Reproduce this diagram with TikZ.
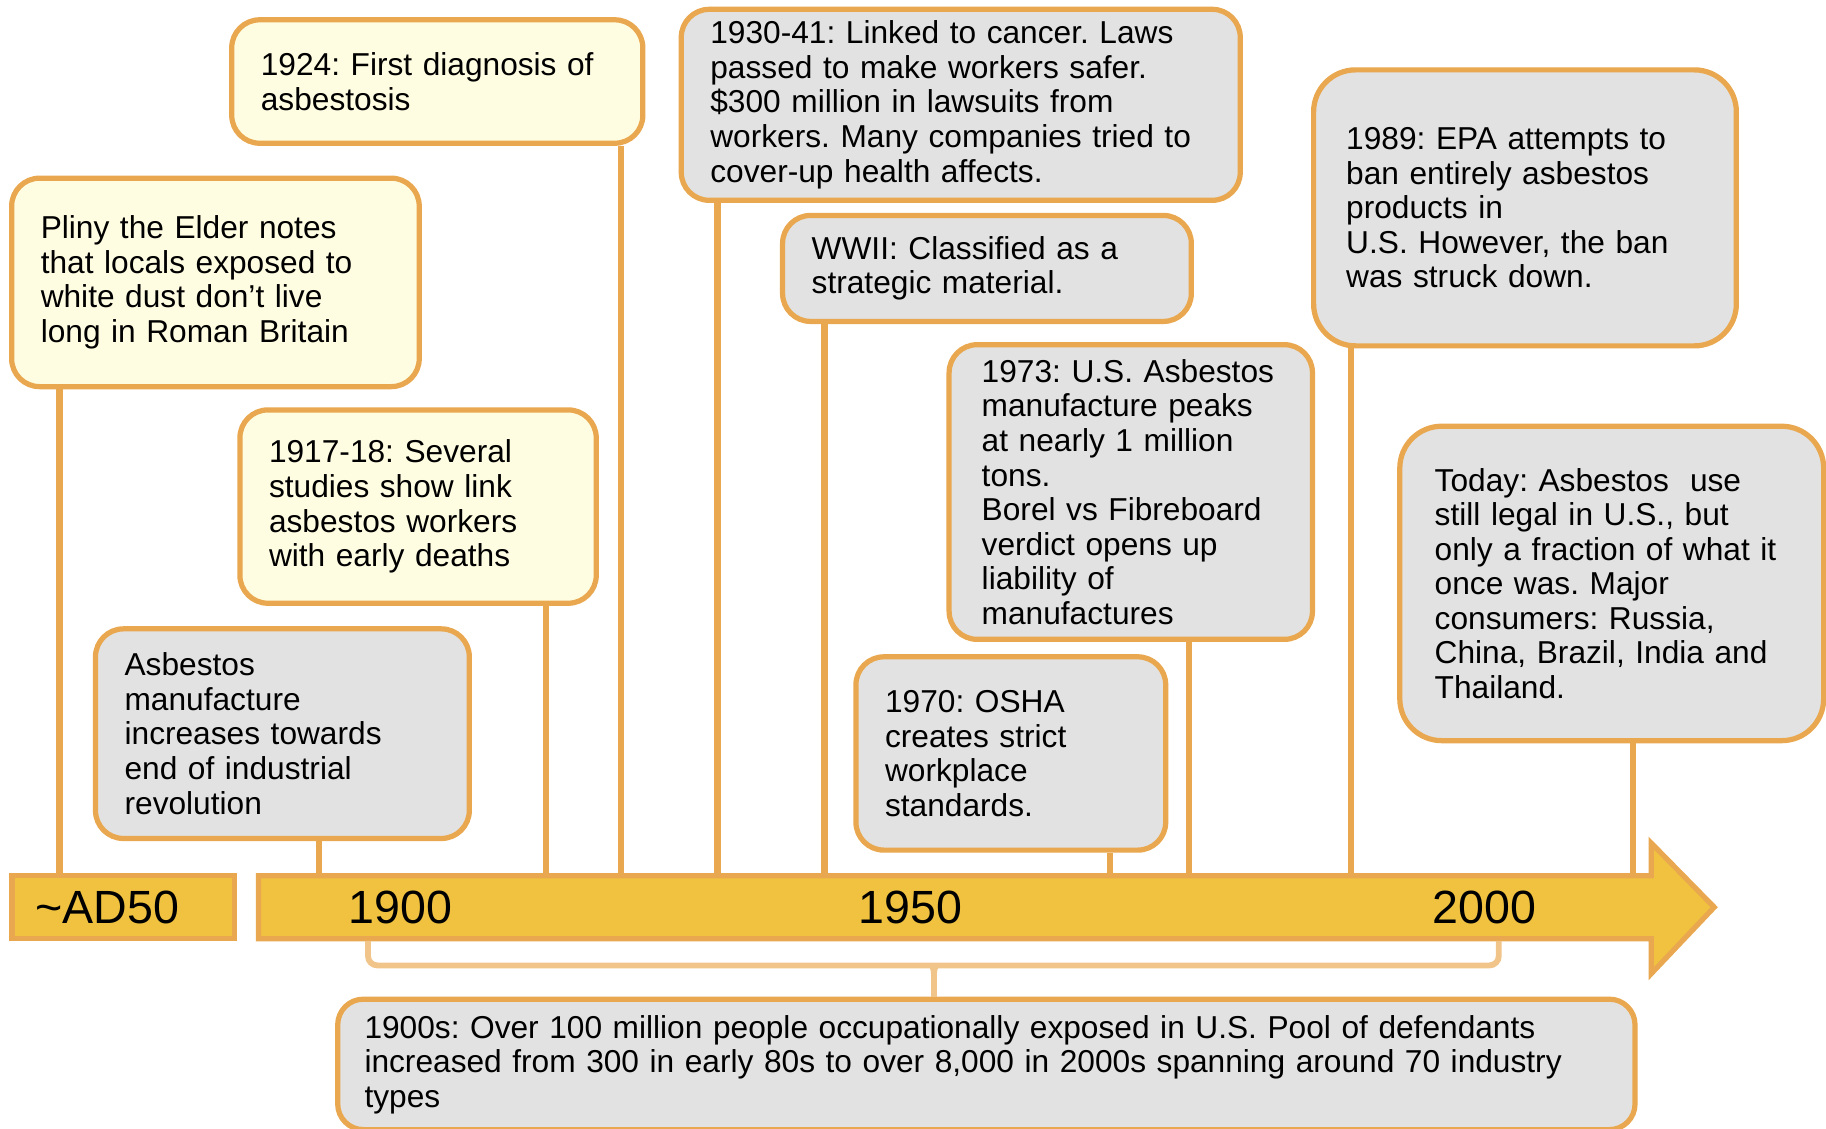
\documentclass[tikz,border=0pt]{standalone}
\usepackage{fontspec}
\setmainfont{Liberation Sans}
\definecolor{orangeline}{HTML}{E9A84F}
\definecolor{creamfill}{HTML}{FFFDE1}
\definecolor{greyfill}{HTML}{E2E2E2}
\definecolor{goldfill}{HTML}{F0C23F}
\definecolor{bracketline}{HTML}{F1C48A}
\newcommand\evfont{\fontsize{27.2}{29.7}\selectfont}
\newcommand\yrfont{\fontsize{40}{44}\selectfont}
\frenchspacing
\begin{document}
\begin{tikzpicture}[x=1pt, y=-1pt,
   evbox/.style={draw=orangeline, line width=4.5pt, rounded corners=24pt, align=left,
                 inner xsep=25pt, inner ysep=0pt, font=\evfont},
   yellowbox/.style={evbox, fill=creamfill},
   greybox/.style={evbox, fill=greyfill},
   stem/.style={draw=orangeline, line width=5.5pt},
   yearlbl/.style={font=\yrfont, inner sep=0pt}]
   \useasboundingbox (0,0) rectangle (1568,969);
   \draw[fill=goldfill, draw=orangeline, line width=4.5pt]
      (222,752) -- (1418,752) -- (1418,724) -- (1472,779) -- (1418,836) -- (1418,806) -- (222,806) -- cycle;
   \node[draw=orangeline, fill=goldfill, line width=4.5pt, minimum height=54pt, text width=151pt,
         inner xsep=20pt, align=left, anchor=west, font=\yrfont] (ad) at (8,779) {\textasciitilde AD50};
   \node[yearlbl] (y1900) at (344,779) {1900};
   \node[yearlbl] (y1950) at (782,779) {1950};
   \node[yearlbl] (y2000) at (1275,779) {2000};
   \coordinate (axis) at (0,752);
   \node[yellowbox, minimum width=350pt, minimum height=179pt, text width=300pt] (pliny) at (185,242.5)
      {Pliny the Elder notes\\that locals exposed to\\white dust don’t live\\long in Roman Britain};
   \node[yellowbox, minimum width=353pt, minimum height=106pt, text width=303pt, inner xsep=22pt] (d1924) at (375.5,70)
      {1924: First diagnosis of\\asbestosis};
   \node[yellowbox, minimum width=306pt, minimum height=166pt, text width=256pt] (s1917) at (359,435)
      {1917-18: Several\\studies show link\\asbestos workers\\with early deaths};
   \node[greybox, minimum width=321pt, minimum height=180pt, text width=271pt] (manu) at (242.5,630)
      {Asbestos\\manufacture\\increases towards\\end of industrial\\revolution};
   \node[greybox, minimum width=480pt, minimum height=164pt, text width=430pt] (c1930) at (825,90)
      {1930-41: Linked to cancer. Laws\\passed to make workers safer.\\\$300 million in lawsuits from\\workers. Many companies tried to\\cover-up health affects.};
   \node[greybox, minimum width=351pt, minimum height=91pt, text width=301pt, inner xsep=23pt] (wwii) at (847.5,230.5)
      {WWII: Classified as a\\strategic material.};
   \node[greybox, minimum width=312pt, minimum height=253pt, text width=256pt, inner xsep=28pt] (p1973) at (971,422.5)
      {1973: U.S. Asbestos\\manufacture peaks\\at nearly 1 million\\tons.\\Borel vs Fibreboard\\verdict opens up\\liability of\\manufactures};
   \node[greybox, minimum width=266pt, minimum height=166pt, text width=216pt] (osha) at (868,647)
      {1970: OSHA\\creates strict\\workplace\\standards.};
   \node[greybox, minimum width=363pt, minimum height=237pt, text width=307pt, inner xsep=28pt, rounded corners=36pt] (epa) at (1309.5,178.5)
      {1989: EPA attempts to\\ban entirely asbestos\\products in\\U.S. However, the ban\\was struck down.};
   \node[greybox, minimum width=364pt, minimum height=270pt, text width=304pt, inner xsep=30pt, rounded corners=36pt] (today) at (1384,501)
      {Today: Asbestos~ use\\still legal in U.S., but\\only a fraction of what it\\once was. Major\\consumers: Russia,\\China, Brazil, India and\\Thailand.};
   \node[greybox, minimum width=1114pt, minimum height=112pt, text width=1068pt, inner xsep=23pt, rounded corners=22pt] (span) at (847,914)
      {1900s: Over 100 million people occupationally exposed in U.S. Pool of defendants\\increased from 300 in early 80s to over 8,000 in 2000s spanning around 70 industry\\types};
   \foreach \n/\x in {pliny/51, manu/274, s1917/469, d1924/533, c1930/616, wwii/708, osha/953, p1973/1021, epa/1160, today/1402}
      \draw[stem] (\x,0 |- \n.south) -- (\x,0 |- axis);
   \coordinate (bl) at (316,808);
   \coordinate (br) at (1287,808);
   \draw[draw=bracketline, line width=5pt, rounded corners=8pt] (bl) -- (316,829) -- (1287,829) -- (br);
   \draw[draw=bracketline, line width=5pt] (802,829) -- (802,0 |- span.north);
   \fill[bracketline] (792,827) .. controls (800,828) and (799.5,834) .. (799.5,842) -- (804.5,842) .. controls (804.5,834) and (804,828) .. (812,827) -- cycle;
\end{tikzpicture}
\end{document}
